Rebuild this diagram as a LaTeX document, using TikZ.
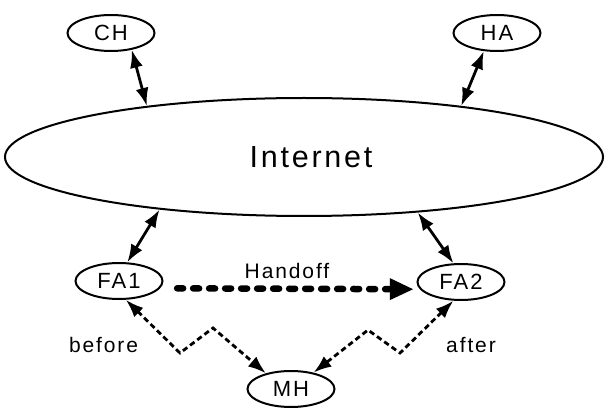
\documentclass[tikz,border=0pt]{standalone}
\usepackage{fontspec}
\setmainfont[LetterSpace=9]{Liberation Sans}
\usetikzlibrary{shapes.geometric,arrows.meta}
\begin{document}
\begin{tikzpicture}[x=1pt,y=-1pt,
  hostnode/.style={ellipse,draw,line width=2pt,inner sep=0pt,minimum width=87pt,minimum height=36pt,font=\fontsize{22}{24}\selectfont},
  netnode/.style={ellipse,draw,line width=2pt,inner sep=0pt,minimum width=598pt,minimum height=118pt,font=\fontsize{30.5}{32}\selectfont},
  link/.style={line width=2.8pt,{Latex[length=18pt,width=13pt]}-{Latex[length=18pt,width=13pt]}},
  wireless/.style={line width=2.8pt,dash pattern=on 5.5pt off 3.5pt,{Latex[length=18pt,width=13pt]}-{Latex[length=18pt,width=13pt]}},
  handoff/.style={line width=6.5pt,line cap=round,dash pattern=on 6pt off 10pt,-{Triangle[length=24pt,width=20pt]}},
  lbl/.style={font=\fontsize{21}{23}\selectfont,inner sep=0pt}]
\useasboundingbox (0,0) rectangle (605,414);
\node[netnode] (inet) at (304,157) {\hspace*{14pt}Internet};
\node[hostnode] (CH) at (111,33) {CH};
\node[hostnode] (HA) at (497,33) {HA};
\node[hostnode] (FA1) at (119,281) {FA1};
\node[hostnode] (FA2) at (461,282) {FA2};
\node[hostnode] (MH) at (291,389) {MH};
\draw[link] (CH.-39) -- (inet.162.3);
\draw[link] (HA.234.8) -- (inet.18.55);
\draw[link] (FA1.66.8) -- (inet.200.2);
\draw[link] (FA2.112) -- (inet.334.6);
\draw[handoff,shorten <=17pt,shorten >=6pt] (FA1.-10) -- (FA2.190);
\node[lbl] (hand) at (287,270.5) {Handoff};
\coordinate (z1) at (180,353);
\coordinate (z2) at (213,328);
\coordinate (z3) at (400,353);
\coordinate (z4) at (368,330);
\draw[wireless] (FA1.-70.9) -- (z1) -- (z2) -- (MH.148.7);
\draw[wireless] (FA2.248.6) -- (z3) -- (z4) -- (MH.36.2);
\node[lbl] (before) at (103.5,344.5) {before};
\node[lbl] (after) at (471,345) {after};
\end{tikzpicture}
\end{document}
